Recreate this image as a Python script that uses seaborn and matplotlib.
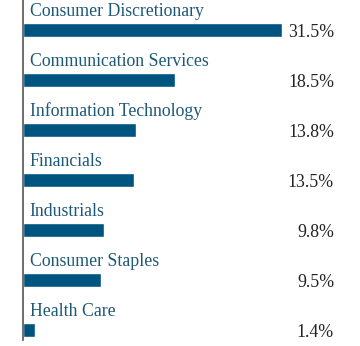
import matplotlib
matplotlib.use("Agg")
import matplotlib.pyplot as plt
import seaborn as sns
import pandas as pd

categories = ["Consumer Discretionary", "Communication Services", "Information Technology",
              "Financials", "Industrials", "Consumer Staples", "Health Care"]
values = [31.5, 18.5, 13.8, 13.5, 9.8, 9.5, 1.4]
value_labels = ["31.5%", "18.5%", "13.8%", "13.5%", "9.8%", "9.5%", "1.4%"]

df = pd.DataFrame({"cat": categories, "val": values})

sns.set_style("white")
plt.rcParams["font.family"] = ["Liberation Serif", "DejaVu Serif"]

fig = plt.figure(figsize=(3.6, 3.46), dpi=100)
ax = fig.add_axes([23/360, 6/346, 1 - 23/360, 340/346])
sns.barplot(data=df, x="val", y="cat", orient="h", color="#005580", width=0.28,
            saturation=1, ax=ax)
ax.set_xlim(0, (360 - 23) / 8.22)
ax.set_ylim(6.2, -0.6)
for s in ["top", "right", "bottom"]:
    ax.spines[s].set_visible(False)
ax.spines["left"].set_color("#555555")
ax.spines["left"].set_linewidth(1.2)
ax.set_xticks([])
ax.set_yticks([])
ax.set_xlabel("")
ax.set_ylabel("")

xr = (334 - 23) / 8.22
for i, (c, lab) in enumerate(zip(categories, value_labels)):
    ax.text(0.8, i - 0.37, c, ha="left", va="center", fontsize=12.8, color="#1E5878")
    ax.text(xr, i + 0.05, lab, ha="right", va="center", fontsize=12.8, color="#222222")

fig.savefig("out.png", dpi=100)
